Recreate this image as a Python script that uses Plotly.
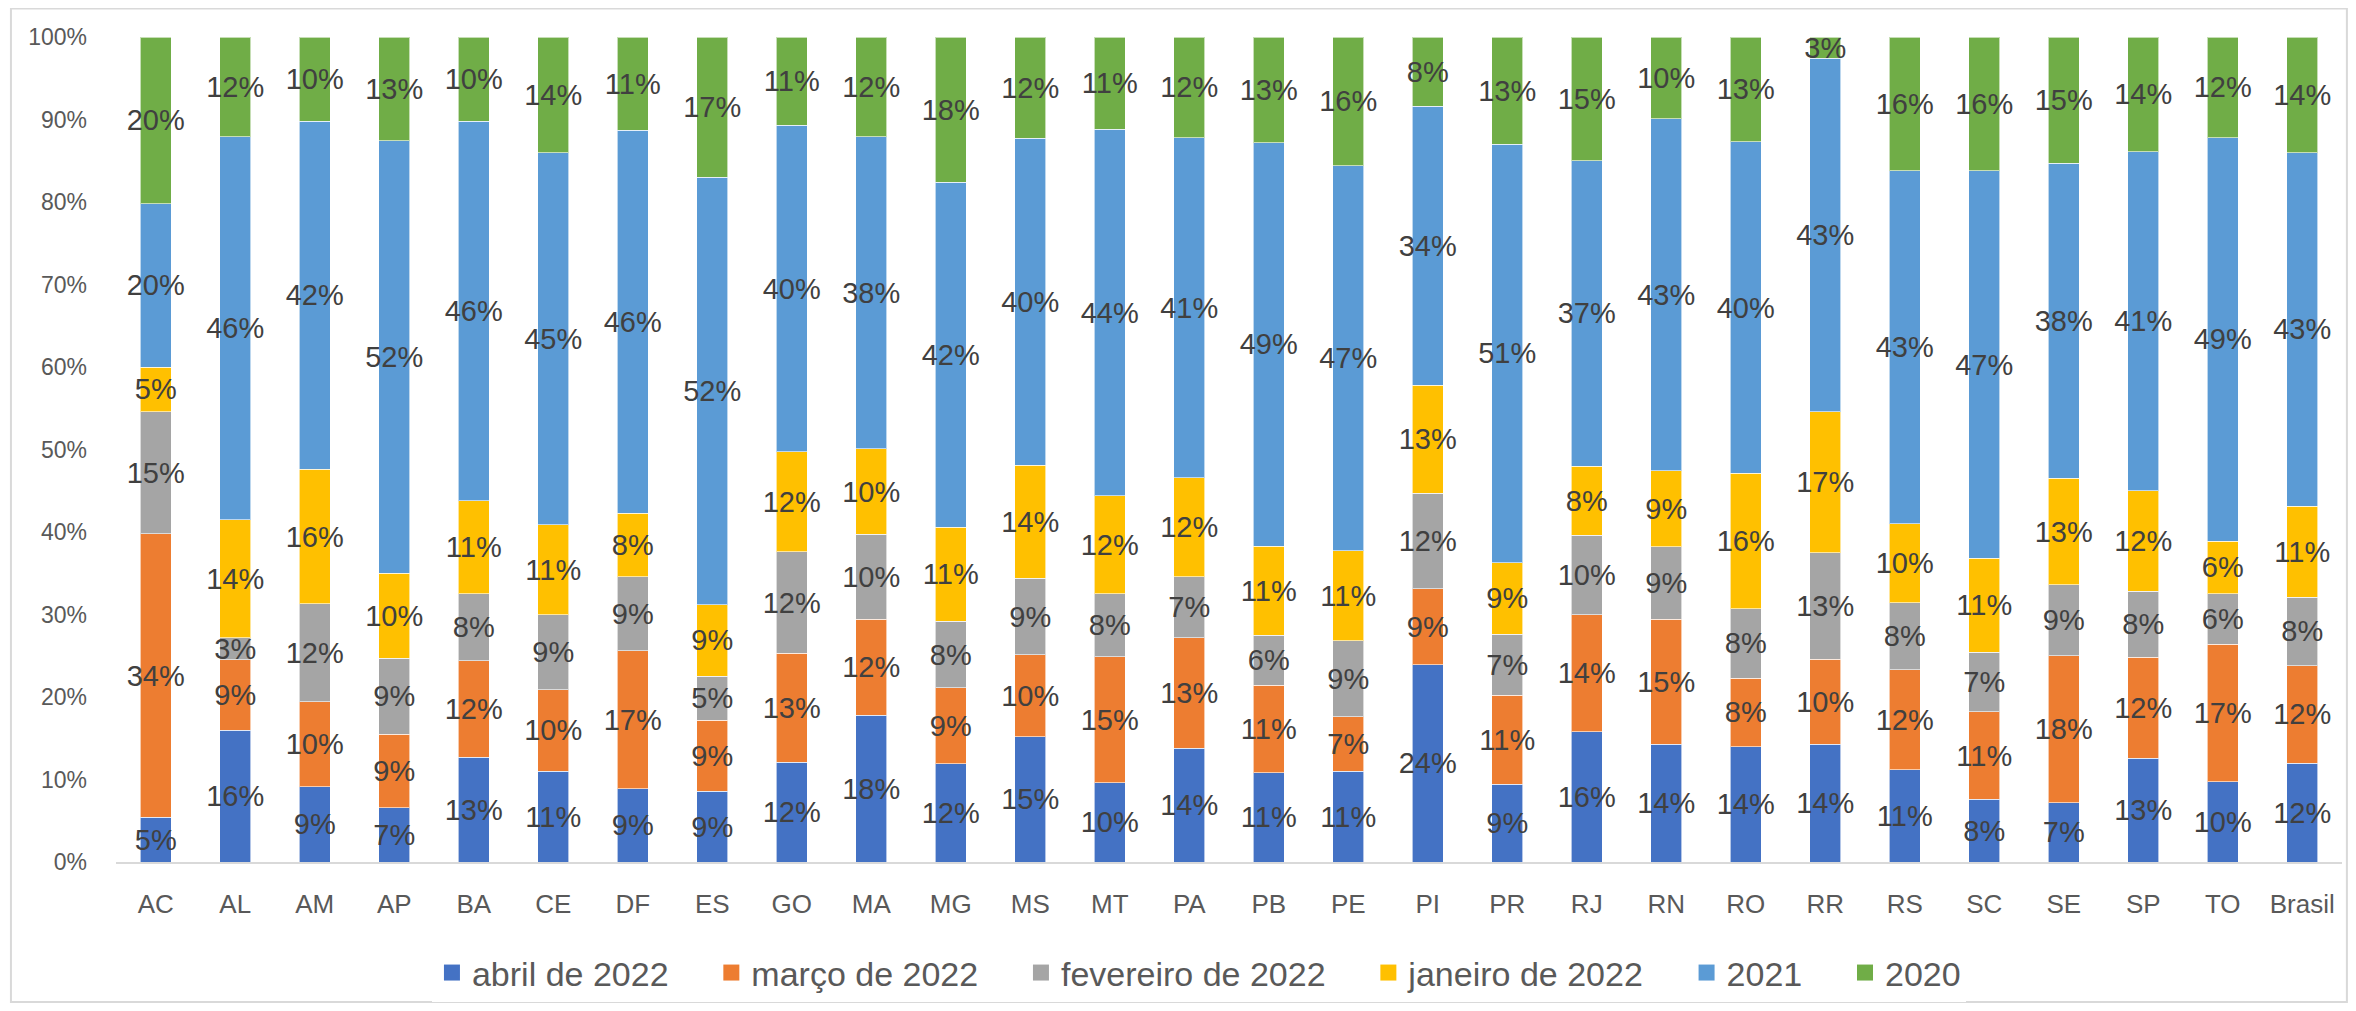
import plotly.graph_objects as go

# Estados (UF) + Brasil
estados = ["AC", "AL", "AM", "AP", "BA", "CE", "DF", "ES", "GO", "MA", "MG", "MS", "MT", "PA",
           "PB", "PE", "PI", "PR", "RJ", "RN", "RO", "RR", "RS", "SC", "SE", "SP", "TO", "Brasil"]

# participação (%) de cada período
abril_2022 = [5.4, 16.0, 9.1, 6.6, 12.7, 11.0, 8.9, 8.6, 12.1, 17.8, 11.9, 15.2, 9.6, 13.8,
              10.8, 11.0, 23.9, 9.4, 15.8, 14.3, 14.0, 14.3, 11.2, 7.6, 7.2, 12.6, 9.7, 12.0]
marco_2022 = [34.4, 8.5, 10.3, 8.9, 11.7, 9.9, 16.7, 8.6, 13.2, 11.6, 9.2, 9.9, 15.3, 13.4,
              10.6, 6.6, 9.2, 10.8, 14.2, 15.1, 8.3, 10.3, 12.1, 10.6, 17.8, 12.2, 16.7, 11.8]
fevereiro_2022 = [14.8, 2.7, 11.9, 9.2, 8.1, 9.1, 9.0, 5.3, 12.3, 10.3, 8.1, 9.3, 7.6, 7.4,
                  6.1, 9.2, 11.6, 7.4, 9.6, 8.8, 8.4, 12.9, 8.1, 7.2, 8.6, 8.0, 6.1, 8.3]
janeiro_2022 = [5.4, 14.3, 16.3, 10.3, 11.3, 10.9, 7.7, 8.7, 12.1, 10.4, 11.4, 13.7, 11.9, 12.0,
                10.8, 10.9, 13.1, 8.7, 8.4, 9.2, 16.4, 17.1, 9.6, 11.4, 12.9, 12.2, 6.4, 11.0]
ano_2021 = [19.8, 46.4, 42.2, 52.4, 46.0, 45.1, 46.4, 51.8, 39.6, 37.8, 41.8, 39.6, 44.4, 41.2,
            48.9, 46.7, 33.8, 50.7, 37.0, 42.7, 40.2, 42.8, 42.8, 47.0, 38.2, 41.1, 48.9, 42.9]
ano_2020 = [20.2, 12.1, 10.2, 12.6, 10.2, 14.0, 11.3, 17.0, 10.7, 12.1, 17.6, 12.3, 11.2, 12.2,
            12.8, 15.6, 8.4, 13.0, 15.0, 9.9, 12.7, 2.6, 16.2, 16.2, 15.3, 13.9, 12.2, 14.0]

eixo_y = [0, 10, 20, 30, 40, 50, 60, 70, 80, 90, 100]
eixo_y_txt = ["0%", "10%", "20%", "30%", "40%", "50%", "60%", "70%", "80%", "90%", "100%"]

series = [
    ("abril de 2022", abril_2022, "#4472C4"),
    ("março de 2022", marco_2022, "#ED7D31"),
    ("fevereiro de 2022", fevereiro_2022, "#A5A5A5"),
    ("janeiro de 2022", janeiro_2022, "#FFC000"),
    ("2021", ano_2021, "#5B9BD5"),
    ("2020", ano_2020, "#70AD47"),
]

FONTE = "Liberation Sans, Arial, sans-serif"
ESPACO = "&nbsp;" * 4  # folga entre itens da legenda

fig = go.Figure()

for nome, valores, cor in series:
    fig.add_trace(go.Bar(
        x=estados, y=valores, name=nome,
        marker=dict(color=cor, line=dict(color="rgba(255,255,255,0.6)", width=1)),
        texttemplate="%{y:.0f}%", textposition="inside", insidetextanchor="middle",
        textangle=0, constraintext="none",
        insidetextfont=dict(family=FONTE, size=29, color="#404040"),
        showlegend=False,
    ))

# entradas da legenda (quadrados maiores)
for i, (nome, valores, cor) in enumerate(series):
    fig.add_trace(go.Scatter(
        x=[None], y=[None], mode="markers",
        name=nome + (ESPACO if i < len(series) - 1 else ""),
        marker=dict(symbol="square", size=20, color=cor),
    ))

fig.update_layout(
    width=2340, height=995,
    barmode="stack", bargap=0.61,
    plot_bgcolor="white", paper_bgcolor="white",
    margin=dict(l=108, r=6, t=29, b=141, autoexpand=False),
    font=dict(family=FONTE, color="#595959"),
    showlegend=True,
    legend=dict(orientation="h", x=0.4865, xanchor="center",
                yref="container", y=0.0302, yanchor="middle",
                traceorder="normal", font=dict(size=34, color="#595959")),
    shapes=[dict(type="rect", xref="paper", yref="paper",
                 x0=-0.0472, x1=1.0022, y0=-0.1697, y1=1.0345,
                 line=dict(color="#D9D9D9", width=2), fillcolor="rgba(0,0,0,0)", layer="below")],
)

fig.update_xaxes(
    showgrid=False, zeroline=False, showline=True, linecolor="#D9D9D9", linewidth=2,
    tickfont=dict(size=26, color="#595959"), ticks="", ticklabelstandoff=18, automargin=False,
)
fig.update_yaxes(
    range=[0, 100], tickmode="array", tickvals=eixo_y, ticktext=eixo_y_txt,
    showgrid=False, zeroline=False, showline=False,
    tickfont=dict(size=23, color="#595959"), ticks="", ticklabelstandoff=28, automargin=False,
)

fig.write_html("out.html")
